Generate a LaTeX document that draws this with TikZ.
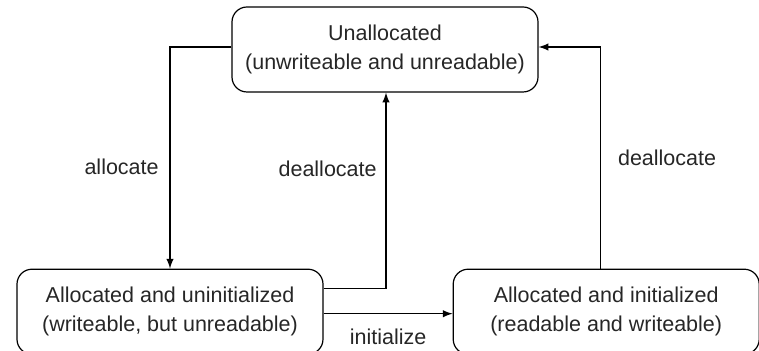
\documentclass[tikz,border=0pt]{standalone}
\usepackage{fontspec}
\setmainfont{Liberation Sans}
\usetikzlibrary{arrows,positioning,calc}

\tikzset{
  memstate/.style={draw, rounded corners=7.5pt, line width=0.6pt, align=center,
    minimum width=153pt, minimum height=42.5pt, inner sep=2pt,
    font=\fontsize{10.75}{14.5}\selectfont, text=black!85},
  trans/.style={-latex, line width=0.7pt},
  translabel/.style={font=\fontsize{10.75}{13}\selectfont, text=black!85}
}

\begin{document}
\begin{tikzpicture}
          \useasboundingbox (-192.5pt,24.75pt) rectangle (187pt,-150.75pt);
          % nodes
          \node[memstate] (unalloc) {Unallocated\\(unwriteable and unreadable)};

          \node[memstate, below=88pt of unalloc, xshift=-107.5pt] (uninit) {Allocated and uninitialized\\(writeable, but unreadable)};

          \node[memstate, right=64.5pt of uninit] (init) {Allocated and initialized\\(readable and writeable)};

          % edges
          \draw[trans] ([yshift=1.25pt] unalloc.west) -| (uninit.north)
               node[translabel, pos=0.77, left, xshift=-2pt] {allocate};
          \draw[trans] ([yshift=11.5pt] uninit.east) -| ([xshift=0.5pt] unalloc.south)
               node[translabel, pos=0.805, left, xshift=-1pt] {deallocate};
          \draw[trans] ([yshift=-1pt] uninit.east) -- ([yshift=-1pt] init.west)
               node[translabel, midway, below, yshift=-4pt] {initialize};
          \draw[trans] ([xshift=-2.75pt] init.north) |- ([yshift=1.25pt] unalloc.east)
               node[translabel, pos=0.25, right, xshift=5pt] {deallocate};
\end{tikzpicture}
\end{document}
